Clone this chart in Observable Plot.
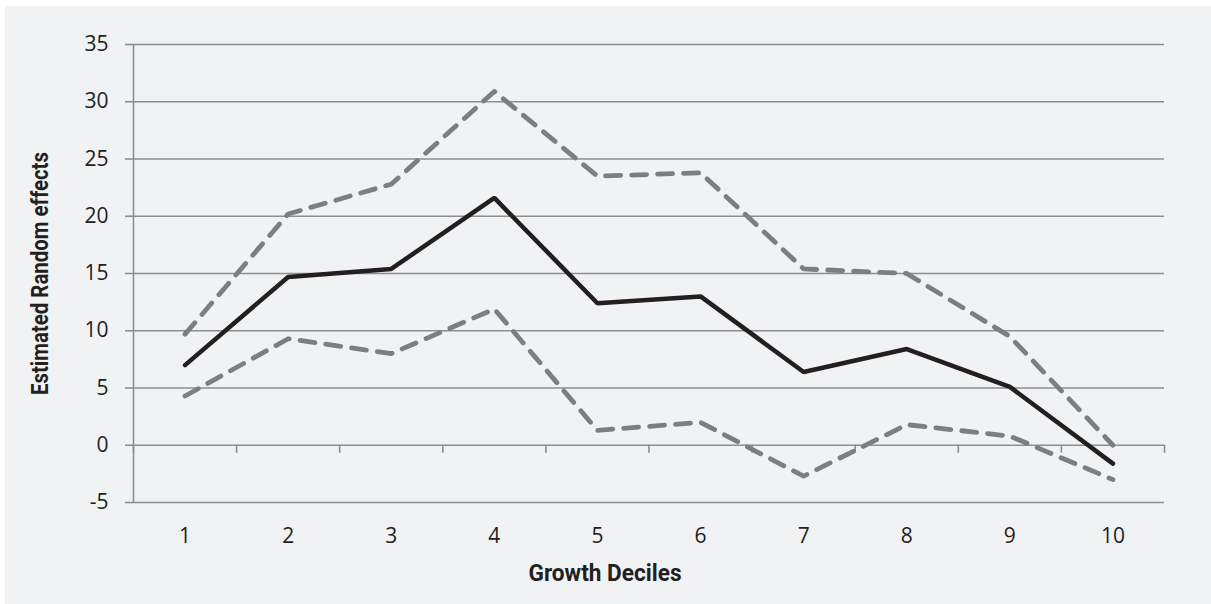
<!DOCTYPE html>
<html>
<head>
<meta charset="utf-8">
<script src="https://cdn.jsdelivr.net/npm/d3@7"></script>
<script src="https://cdn.jsdelivr.net/npm/@observablehq/plot@0.6"></script>
<style>
  html, body { margin: 0; padding: 0; background: #ffffff; }
  #panel {
    position: absolute; left: 5px; top: 6px;
    width: 1206px; height: 598px;
    background: #f1f2f4;
  }
  #panel svg { display: block; background: transparent; }
</style>
</head>
<body>
<div id="panel"></div>
<script>
// Growth deciles 1–10
const deciles = [1, 2, 3, 4, 5, 6, 7, 8, 9, 10];
// Estimated random effect per decile, with upper and lower bounds
const estimate = [7.0, 14.7, 15.4, 21.6, 12.4, 13.0, 6.4, 8.4, 5.1, -1.6];
const upper    = [9.7, 20.2, 22.8, 30.9, 23.5, 23.8, 15.4, 15.0, 9.5, 0.0];
const lower    = [4.3, 9.3, 8.0, 11.9, 1.3, 2.0, -2.7, 1.8, 0.8, -3.0];
// Y axis ticks
const yTicks = [-5, 0, 5, 10, 15, 20, 25, 30, 35];
// Category boundaries for the small x tick marks
const xBounds = d3.range(0.5, 11, 1);

const rows = (vals) => deciles.map((d, i) => ({decile: d, value: vals[i]}));

const gridColor = "#8e8e8e";
const inkColor = "#231f20";
const dashColor = "#7d7e80";
const titleFont = "Roboto, 'DejaVu Sans Condensed', sans-serif";

const chart = Plot.plot({
  width: 1206,
  height: 598,
  marginLeft: 128,
  marginRight: 47,
  marginTop: 38,
  marginBottom: 102,
  style: {background: "transparent", color: inkColor},
  x: {domain: [0.5, 10.5]},
  y: {domain: [-5, 35]},
  marks: [
    // horizontal gridlines
    Plot.ruleY(yTicks, {stroke: gridColor, strokeWidth: 1.6}),
    // vertical axis line
    Plot.ruleX([0.5], {stroke: gridColor, strokeWidth: 1.6}),
    // tick marks hanging below the zero line at category boundaries
    Plot.ruleX(xBounds, {x: d => d, y1: () => 0, y2: () => 0, insetBottom: -8, stroke: gridColor, strokeWidth: 1.6}),
    Plot.axisY({
      ticks: yTicks, tickSize: 8, tickPadding: 17, stroke: gridColor, strokeWidth: 1.6,
      tickFormat: d => String(d), label: null,
      fontFamily: "Open Sans", fontSize: 21, fill: inkColor
    }),
    Plot.axisX({
      ticks: deciles, tickSize: 0, tickPadding: 26, tickFormat: d => String(d), label: null,
      fontFamily: "Open Sans", fontSize: 21, fill: inkColor
    }),
    // confidence bounds
    Plot.lineY(rows(upper), {x: "decile", y: "value", stroke: dashColor, strokeWidth: 4.8,
      strokeDasharray: "15 11", strokeLinecap: "round", strokeLinejoin: "round"}),
    Plot.lineY(rows(lower), {x: "decile", y: "value", stroke: dashColor, strokeWidth: 4.8,
      strokeDasharray: "15 11", strokeLinecap: "round", strokeLinejoin: "round"}),
    // point estimate
    Plot.lineY(rows(estimate), {x: "decile", y: "value", stroke: inkColor, strokeWidth: 4.5,
      strokeLinecap: "round", strokeLinejoin: "miter"}),
    // axis titles (condensed below via textLength)
    Plot.text(["Estimated Random effects"], {
      frameAnchor: "left", rotate: -90, dx: -93, className: "title-y",
      fontFamily: titleFont, fontWeight: 700, fontSize: 24, fill: inkColor
    }),
    Plot.text(["Growth Deciles"], {
      frameAnchor: "bottom", dx: -44, dy: 78, className: "title-x",
      fontFamily: titleFont, fontWeight: 700, fontSize: 24, fill: inkColor
    })
  ]
});

// Squeeze the axis titles into a condensed face, keeping them centred
function condense(selector, length) {
  d3.select(chart).selectAll(selector + " text").each(function () {
    const t = d3.select(this);
    const x0 = +(t.attr("x") || 0);
    t.attr("text-anchor", "start")
      .attr("x", x0 - length / 2)
      .attr("textLength", length)
      .attr("lengthAdjust", "spacingAndGlyphs");
  });
}
condense(".title-y", 243);
condense(".title-x", 153);

document.getElementById("panel").appendChild(chart);
</script>
</body>
</html>
